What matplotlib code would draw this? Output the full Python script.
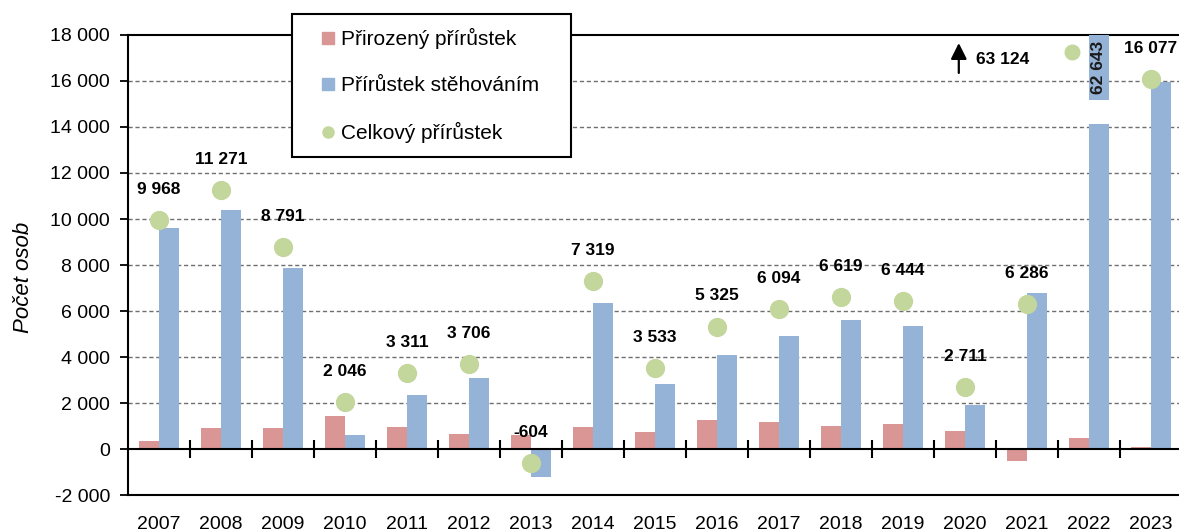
import numpy as np
import matplotlib.pyplot as plt
from matplotlib.lines import Line2D
from matplotlib.patches import Rectangle

plt.rcParams['font.family'] = ['Liberation Sans', 'DejaVu Sans']

years = ['2007', '2008', '2009', '2010', '2011', '2012', '2013', '2014', '2015',
         '2016', '2017', '2018', '2019', '2020', '2021', '2022', '2023']
natural = [360, 900, 900, 1420, 970, 640, 600, 970, 725,
           1250, 1160, 990, 1075, 796, -509, 481, 100]
migration = [9608, 10371, 7891, 626, 2341, 3066, -1204, 6349, 2808,
             4075, 4934, 5629, 5369, 1915, 6795, 62643, 15977]
total = [9968, 11271, 8791, 2046, 3311, 3706, -604, 7319, 3533,
         5325, 6094, 6619, 6444, 2711, 6286, 63124, 16077]

c_nat = '#D99694'
c_mig = '#95B3D7'
c_tot = '#C3D69B'

ymin, ymax = -2000, 18000
# where the 2022 bar is broken and the off-scale dot is shown
brk_lo, brk_hi = 14130, 15170
dot_cap = 17250

def fmt(v):
    return f'{v:,}'.replace(',', ' ')

fig = plt.figure(figsize=(11.79, 5.31), dpi=100)
ax = fig.add_axes([128/1179, 36/531, 1054/1179, 460/531])

x = np.arange(len(years))
w = 0.32
ax.bar(x - w/2, natural, w, color=c_nat, zorder=3)
ax.bar(x + w/2, migration, w, color=c_mig, zorder=3)

# break in the 2022 bar
i22 = years.index('2022')
ax.fill_between([i22 - 0.02, i22 + w + 0.02], brk_lo, brk_hi,
                color='white', zorder=4, lw=0)
ax.text(i22 + w/2, (brk_hi + ymax)/2, fmt(migration[i22]),
        rotation=90, ha='center', va='center', fontsize=12.5, fontweight='bold',
        color='#1a1a1a', zorder=5)

# total increase dots and labels
for i, t in enumerate(total):
    if t > ymax:
        ax.scatter(i - 0.27, dot_cap, s=110, color=c_tot, zorder=5, clip_on=False)
        ax.annotate('', xy=(i - 2.1, 17650), xytext=(i - 2.1, 16350),
                    arrowprops=dict(arrowstyle='-|>', color='black', lw=1.6,
                                    mutation_scale=24, shrinkA=0, shrinkB=0), zorder=6)
        ax.text(i - 1.83, 16950, fmt(t), fontsize=12.5, fontweight='bold',
                ha='left', va='center', zorder=6)
        continue
    ax.scatter(i, t, s=165, color=c_tot, zorder=5)
    ax.annotate(fmt(t), (i, t), xytext=(0, 22), textcoords='offset points',
                ha='center', va='center', fontsize=12.5, fontweight='bold', zorder=6)

ax.set_xlim(-0.5, len(years) - 0.5)
ax.set_ylim(ymin, ymax)
yt = np.arange(ymin, ymax + 1, 2000)
ax.set_yticks(yt)
ax.set_yticklabels([fmt(v) for v in yt])
for v in yt[2:-1]:
    ax.axhline(v, color='#6f6f6f', lw=1, ls=(0, (3, 2)), zorder=1)
ax.axhline(0, color='black', lw=1.5, zorder=4)
ax.scatter(x[:-1] + 0.5, np.zeros(len(years) - 1), marker='|', s=150, color='black',
           linewidths=1.5, zorder=4)

ax.set_xticks(x)
ax.set_xticklabels(years)
ax.tick_params(axis='x', length=0, pad=15, labelsize=14)
ax.tick_params(axis='y', length=6, width=1.3, direction='out', pad=7, labelsize=14)
for s in ['left', 'bottom', 'top']:
    ax.spines[s].set_linewidth(1.5)
ax.spines['right'].set_visible(False)
ax.set_ylabel('Počet osob', fontsize=16, style='italic')
ax.yaxis.set_label_coords(-94/1054, 0.5 - 12/460)

# legend with its own frame box
fig.patches.append(Rectangle((292/1179, 1 - 157/531), 279/1179, 143/531,
                             transform=fig.transFigure, fill=True, facecolor='white',
                             edgecolor='black', lw=1.5, zorder=10))
handles = [Line2D([], [], ls='none', marker='s', ms=8, color=c_nat),
           Line2D([], [], ls='none', marker='s', ms=8, color=c_mig),
           Line2D([], [], ls='none', marker='o', ms=8, color=c_tot)]
leg = fig.legend(handles, ['Přirozený přírůstek', 'Přírůstek stěhováním', 'Celkový přírůstek'],
                 loc='upper left', bbox_to_anchor=(320/1179, 1 - 28/531),
                 fontsize=15, frameon=False, labelspacing=1.3, handlelength=0.8,
                 handletextpad=0.2, borderpad=0, borderaxespad=0)
leg.set_zorder(11)

fig.savefig('out.png', dpi=100)
